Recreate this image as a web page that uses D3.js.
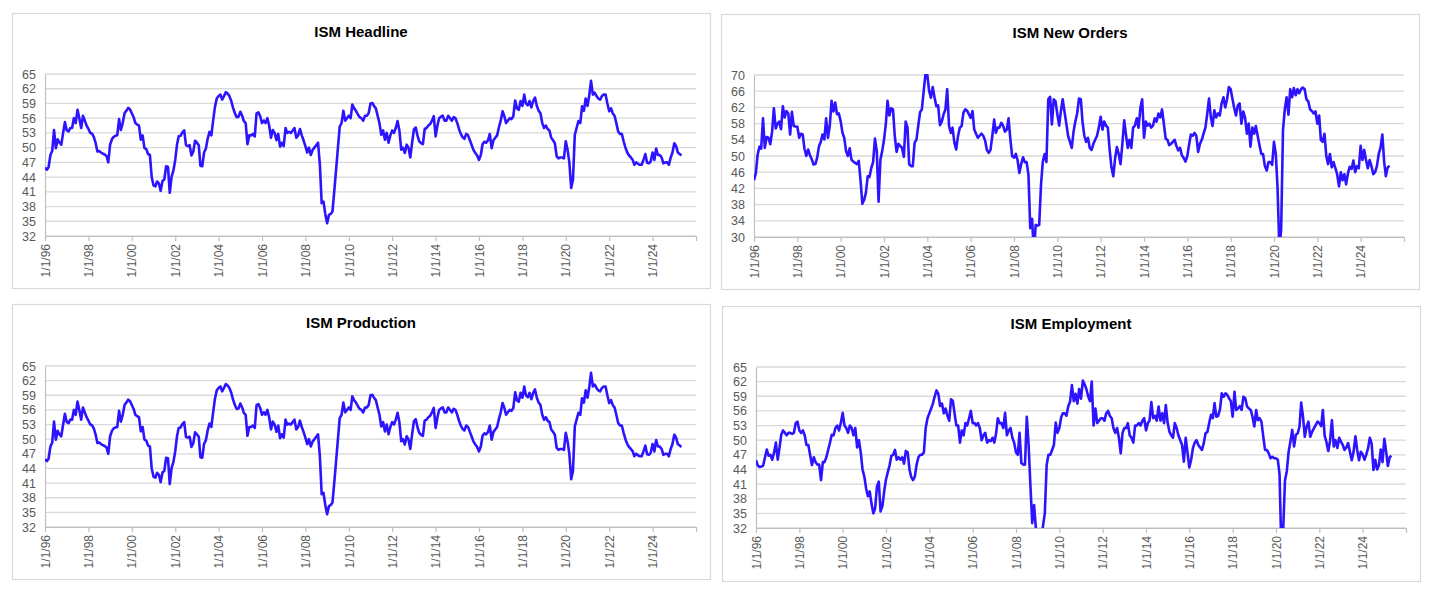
<!DOCTYPE html>
<html>
<head>
<meta charset="utf-8">
<script src="https://cdn.jsdelivr.net/npm/d3@7"></script>
<style>
  body { margin: 0; background: #fff; }
  svg { display: block; }
</style>
</head>
<body>
<div id="chart"></div>
<script>
// Monthly ISM readings, Jan 1996 .. May 2025 (one row per year)
const headline = [
  45.9, 45.5, 46.0, 48.5, 49.3, 53.6, 49.9, 51.7, 51.0, 50.6, 53.0, 55.2,
  53.5, 53.3, 54.0, 54.0, 56.0, 55.0, 57.7, 56.0, 54.0, 56.5, 55.5, 54.5,
  53.8, 53.0, 52.9, 52.2, 51.0, 49.2, 49.3, 49.0, 48.8, 48.6, 48.3, 47.0,
  50.6, 51.7, 52.2, 52.4, 52.5, 55.8, 53.6, 55.0, 57.0, 57.5, 58.1, 57.8,
  57.0, 56.2, 55.0, 54.7, 54.5, 51.6, 52.5, 49.9, 49.7, 48.7, 48.5, 44.0,
  42.3, 42.1, 43.1, 42.7, 41.2, 43.2, 43.5, 46.2, 46.1, 40.8, 44.1, 45.3,
  47.5, 50.7, 52.3, 52.4, 53.1, 53.5, 50.5, 50.3, 50.5, 48.4, 49.2, 51.4,
  51.0, 50.5, 46.3, 46.2, 49.0, 49.8, 51.8, 53.2, 52.5, 55.5, 58.3, 60.0,
  60.5, 60.8, 59.8, 60.5, 61.3, 61.0, 60.5, 59.5, 58.1, 57.0, 56.2, 56.3,
  57.3, 56.5, 55.4, 55.0, 50.7, 52.5, 52.5, 52.8, 52.3, 57.0, 57.2, 56.4,
  55.0, 55.5, 55.0, 56.0, 54.5, 52.0, 53.6, 53.0, 51.5, 52.8, 50.2, 51.0,
  50.3, 54.0, 53.0, 53.2, 53.0, 53.5, 54.0, 52.0, 52.5, 53.8, 52.5, 51.5,
  50.3, 49.0, 50.0, 48.5, 49.5, 50.0, 50.5, 51.0, 46.5, 38.7, 39.0, 36.5,
  34.6, 36.3, 36.5, 37.0, 41.1, 45.5, 49.9, 54.3, 55.0, 57.5, 55.5, 56.0,
  56.5, 56.0, 58.8, 58.0, 57.5, 56.8, 56.2, 56.0, 55.5, 56.5, 56.5, 57.0,
  59.0, 59.1, 58.5, 58.0, 56.5, 55.0, 52.6, 53.5, 51.6, 53.0, 51.0, 52.5,
  53.5, 53.0, 54.0, 55.4, 53.5, 49.6, 50.0, 48.9, 50.6, 50.0, 48.0, 51.0,
  53.7, 54.1, 52.5, 51.3, 50.9, 50.7, 53.8, 54.0, 54.5, 54.8, 55.5, 56.4,
  52.3, 54.5, 56.0, 56.3, 56.5, 55.5, 55.5, 56.5, 56.0, 55.5, 56.2, 56.0,
  55.0, 53.7, 52.8, 52.1, 51.8, 52.8, 52.5, 51.5, 50.5, 49.5, 48.9, 48.4,
  47.5, 48.5, 50.7, 51.2, 51.0, 51.5, 52.8, 49.9, 51.5, 52.0, 52.5, 54.1,
  55.5, 57.4, 56.5, 55.0, 55.5, 56.0, 55.8, 56.4, 59.6, 58.0, 57.7, 59.5,
  58.5, 60.8, 59.0, 58.6, 59.5, 58.2, 59.5, 60.2, 58.5, 57.5, 57.0, 55.0,
  54.0, 54.5, 53.8, 53.5, 52.0, 51.5, 50.9, 48.2, 47.8, 48.0, 48.0, 47.8,
  51.3, 49.5, 47.0, 41.8, 43.5, 52.6, 54.0, 55.4, 55.0, 58.4, 57.5, 60.0,
  58.5, 60.8, 63.6, 60.8, 61.2, 60.5, 60.0, 59.8, 60.5, 60.8, 60.8, 59.0,
  57.4, 58.0, 57.0, 56.5, 55.0, 53.3, 52.8, 52.8, 51.3, 50.0, 49.0, 48.4,
  48.0, 47.5, 46.5, 47.0, 46.7, 46.5, 46.5, 47.5, 48.7, 46.9, 46.8, 47.2,
  49.0, 47.5, 49.8, 48.5, 48.5, 48.0, 46.8, 47.0, 47.0, 46.5, 48.0, 49.0,
  50.9, 50.3, 49.0, 48.7, 48.4
];

const newOrders = [
  44.0, 45.8, 50.2, 52.3, 51.8, 59.3, 52.0, 54.7, 54.5, 52.9, 56.0, 61.8,
  56.8, 58.0, 58.5, 56.6, 62.3, 59.5, 61.1, 60.5, 55.3, 60.9, 57.4, 57.3,
  57.2, 54.5, 55.5, 55.3, 51.8, 50.0, 51.6, 50.2, 49.2, 47.9, 48.0, 49.6,
  52.4, 53.5, 55.3, 54.1, 59.3, 54.5, 57.4, 63.6, 61.0, 63.2, 60.3, 60.5,
  58.6, 55.7, 54.5, 51.2, 50.0, 51.9, 49.1, 48.6, 48.3, 48.0, 48.8, 44.0,
  38.2, 39.2, 40.9, 45.0, 44.8, 47.1, 48.5, 54.3, 51.2, 38.7, 49.1, 51.2,
  54.0, 58.0, 63.6, 60.0, 61.8, 61.5, 55.0, 51.0, 53.0, 52.5, 52.0, 49.8,
  58.5, 57.0, 48.0, 47.5, 47.5, 53.3, 54.0, 57.5, 60.8, 61.5, 66.0, 70.3,
  70.0, 66.0, 64.4, 67.0, 64.5, 62.3, 62.5, 57.6, 58.5, 60.3, 61.5, 66.5,
  57.4, 55.7, 57.0, 53.3, 51.6, 54.9, 57.0, 57.4, 60.7, 61.5, 61.2, 60.3,
  59.4, 61.1, 56.6, 55.5, 54.5, 55.0, 55.5, 55.0, 53.8, 51.5, 50.8, 51.5,
  55.0, 59.0, 55.7, 57.0, 57.0, 58.2, 57.5, 56.0, 56.5, 59.3, 54.1, 50.0,
  49.6, 50.5, 49.0, 45.8, 48.0, 49.7, 48.5, 48.5, 45.4, 32.2, 34.5, 26.0,
  33.0, 32.8, 33.0, 43.0, 48.6, 50.5, 48.5, 64.0, 64.6, 57.8, 64.0, 63.5,
  60.3, 57.5, 61.0, 64.0, 61.0, 58.0, 55.0, 53.5, 52.0, 56.0, 58.6, 60.5,
  64.2, 64.0, 58.5, 55.0, 53.5, 54.5, 52.0, 51.5, 53.0, 54.0, 55.0, 57.0,
  59.7, 56.5, 58.5, 57.5, 57.0, 51.5, 47.2, 45.0, 49.5, 52.2, 50.5, 48.0,
  53.0, 58.8, 55.5, 52.0, 54.0, 52.0, 57.0, 57.5, 59.3, 57.0, 61.9, 64.0,
  54.5, 58.5, 57.5, 58.0, 57.0, 57.5, 59.3, 58.5, 60.5, 59.5, 61.5, 58.0,
  54.3, 54.0, 52.7, 53.0, 53.5, 54.0, 52.5, 51.4, 52.0, 50.2, 49.5, 48.6,
  50.0, 52.9, 55.3, 55.0, 55.7, 55.0, 51.0, 53.0, 54.0, 55.5, 57.0, 60.3,
  64.2, 59.5, 57.4, 61.3, 59.5, 60.5, 60.0, 63.0, 64.5, 62.0, 64.0, 67.0,
  66.5, 64.0, 61.9, 60.0, 62.5, 63.0, 58.0, 61.0, 59.5, 55.5, 58.0, 52.3,
  57.0, 55.5, 57.4, 55.0, 52.7, 50.5, 50.5, 47.5, 46.4, 48.5, 48.5, 47.8,
  53.5, 50.5, 42.2, 27.1, 31.8, 56.4, 61.5, 64.5, 60.2, 66.5, 64.5, 66.8,
  65.0, 66.5, 65.5, 66.5, 66.9, 66.5, 64.0, 63.5, 61.5, 61.1, 60.5, 61.0,
  58.0, 60.0, 54.0, 53.5, 55.5, 50.0, 48.0, 50.5, 47.2, 48.5, 47.0, 45.5,
  42.5, 46.0, 44.0, 45.5, 43.0, 45.7, 47.3, 46.8, 48.9, 46.0, 47.5, 47.0,
  52.5, 49.0, 51.5, 49.0, 47.0, 49.0, 47.5, 45.5, 46.0, 47.5, 50.5, 52.0,
  55.3, 48.5, 45.0, 47.2, 47.6
];

// the production panel in the source shows the same trace as the headline panel
const production = [
  45.9, 45.5, 46.0, 48.5, 49.3, 53.6, 49.9, 51.7, 51.0, 50.6, 53.0, 55.2,
  53.5, 53.3, 54.0, 54.0, 56.0, 55.0, 57.7, 56.0, 54.0, 56.5, 55.5, 54.5,
  53.8, 53.0, 52.9, 52.2, 51.0, 49.2, 49.3, 49.0, 48.8, 48.6, 48.3, 47.0,
  50.6, 51.7, 52.2, 52.4, 52.5, 55.8, 53.6, 55.0, 57.0, 57.5, 58.1, 57.8,
  57.0, 56.2, 55.0, 54.7, 54.5, 51.6, 52.5, 49.9, 49.7, 48.7, 48.5, 44.0,
  42.3, 42.1, 43.1, 42.7, 41.2, 43.2, 43.5, 46.2, 46.1, 40.8, 44.1, 45.3,
  47.5, 50.7, 52.3, 52.4, 53.1, 53.5, 50.5, 50.3, 50.5, 48.4, 49.2, 51.4,
  51.0, 50.5, 46.3, 46.2, 49.0, 49.8, 51.8, 53.2, 52.5, 55.5, 58.3, 60.0,
  60.5, 60.8, 59.8, 60.5, 61.3, 61.0, 60.5, 59.5, 58.1, 57.0, 56.2, 56.3,
  57.3, 56.5, 55.4, 55.0, 50.7, 52.5, 52.5, 52.8, 52.3, 57.0, 57.2, 56.4,
  55.0, 55.5, 55.0, 56.0, 54.5, 52.0, 53.6, 53.0, 51.5, 52.8, 50.2, 51.0,
  50.3, 54.0, 53.0, 53.2, 53.0, 53.5, 54.0, 52.0, 52.5, 53.8, 52.5, 51.5,
  50.3, 49.0, 50.0, 48.5, 49.5, 50.0, 50.5, 51.0, 46.5, 38.7, 39.0, 36.5,
  34.6, 36.3, 36.5, 37.0, 41.1, 45.5, 49.9, 54.3, 55.0, 57.5, 55.5, 56.0,
  56.5, 56.0, 58.8, 58.0, 57.5, 56.8, 56.2, 56.0, 55.5, 56.5, 56.5, 57.0,
  59.0, 59.1, 58.5, 58.0, 56.5, 55.0, 52.6, 53.5, 51.6, 53.0, 51.0, 52.5,
  53.5, 53.0, 54.0, 55.4, 53.5, 49.6, 50.0, 48.9, 50.6, 50.0, 48.0, 51.0,
  53.7, 54.1, 52.5, 51.3, 50.9, 50.7, 53.8, 54.0, 54.5, 54.8, 55.5, 56.4,
  52.3, 54.5, 56.0, 56.3, 56.5, 55.5, 55.5, 56.5, 56.0, 55.5, 56.2, 56.0,
  55.0, 53.7, 52.8, 52.1, 51.8, 52.8, 52.5, 51.5, 50.5, 49.5, 48.9, 48.4,
  47.5, 48.5, 50.7, 51.2, 51.0, 51.5, 52.8, 49.9, 51.5, 52.0, 52.5, 54.1,
  55.5, 57.4, 56.5, 55.0, 55.5, 56.0, 55.8, 56.4, 59.6, 58.0, 57.7, 59.5,
  58.5, 60.8, 59.0, 58.6, 59.5, 58.2, 59.5, 60.2, 58.5, 57.5, 57.0, 55.0,
  54.0, 54.5, 53.8, 53.5, 52.0, 51.5, 50.9, 48.2, 47.8, 48.0, 48.0, 47.8,
  51.3, 49.5, 47.0, 41.8, 43.5, 52.6, 54.0, 55.4, 55.0, 58.4, 57.5, 60.0,
  58.5, 60.8, 63.6, 60.8, 61.2, 60.5, 60.0, 59.8, 60.5, 60.8, 60.8, 59.0,
  57.4, 58.0, 57.0, 56.5, 55.0, 53.3, 52.8, 52.8, 51.3, 50.0, 49.0, 48.4,
  48.0, 47.5, 46.5, 47.0, 46.7, 46.5, 46.5, 47.5, 48.7, 46.9, 46.8, 47.2,
  49.0, 47.5, 49.8, 48.5, 48.5, 48.0, 46.8, 47.0, 47.0, 46.5, 48.0, 49.0,
  50.9, 50.3, 49.0, 48.7, 48.4
];

const employment = [
  45.9, 44.8, 44.5, 44.6, 44.8, 46.5, 48.1, 46.8, 47.0, 46.0, 47.5, 49.5,
  46.0, 48.5, 51.1, 52.0, 51.5, 51.0, 51.5, 51.5, 51.3, 51.5, 53.5, 53.8,
  52.0, 51.5, 52.0, 51.0, 49.0, 49.0, 47.0, 44.9, 46.5, 45.5, 45.0, 45.0,
  41.8, 45.5, 45.5, 46.5, 48.0, 49.5, 51.1, 51.0, 52.5, 53.0, 52.0, 53.5,
  55.6, 53.0, 52.5, 51.5, 53.0, 52.5, 51.0, 52.5, 48.5, 50.0, 47.5, 44.0,
  42.5, 40.0, 38.5, 39.5, 37.0, 35.0, 36.0, 40.5, 41.5, 35.4, 36.5, 39.5,
  42.0, 43.5, 44.8, 46.8, 47.0, 48.0, 46.0, 46.5, 46.0, 46.5, 45.2, 47.8,
  47.5, 44.0, 42.5, 41.8, 42.5, 45.0, 46.5, 47.0, 47.0, 47.5, 52.5, 54.5,
  55.5, 56.5, 57.5, 59.0, 60.2, 59.5, 57.0, 57.5, 55.5, 56.5, 55.0, 54.0,
  58.4, 58.0, 55.5, 53.0, 53.0, 49.5, 52.0, 51.0, 53.5, 53.0, 54.5, 56.0,
  53.5, 53.5, 53.0, 53.5, 52.5, 50.0, 51.0, 51.5, 49.5, 50.0, 49.8, 50.5,
  49.5, 51.5, 54.5, 53.5, 53.5, 52.5, 55.6, 51.0, 52.0, 52.5, 50.5, 49.5,
  47.5, 47.0, 51.5, 45.3, 45.0, 45.0, 54.8, 49.0, 40.5, 33.0, 36.7, 32.0,
  28.0, 27.0, 29.5, 32.5, 35.0, 44.9, 47.0, 47.0, 48.0, 49.0, 53.6, 51.5,
  52.5, 54.7, 55.5, 55.5, 55.0, 57.0, 57.9, 61.3, 58.0, 59.5, 57.5, 60.5,
  58.5, 62.2, 61.5, 60.5, 59.0, 58.0, 62.0, 53.0, 56.5, 53.5, 54.0, 54.5,
  54.5, 54.0, 55.5, 56.0, 55.0, 54.5, 52.5, 51.5, 52.5, 50.5, 47.3, 51.5,
  52.5, 52.5, 53.5, 51.0, 50.5, 49.5, 53.0, 53.0, 53.5, 53.0, 54.0, 54.5,
  52.0, 53.5, 54.0, 57.8, 54.5, 55.0, 54.0, 56.9, 54.0, 55.5, 53.5, 57.2,
  53.5, 51.7, 51.0, 50.5, 53.5, 52.5, 51.0, 50.0, 49.0, 45.6, 50.5, 47.5,
  44.4, 46.0, 48.3, 49.5, 50.0, 49.0, 48.5, 48.0, 49.4, 51.4, 51.7, 53.5,
  55.2, 54.5, 57.6, 54.8, 55.0, 56.3, 59.6, 58.9, 59.6, 59.3, 58.6, 58.0,
  54.8, 59.9, 56.2, 56.5, 57.0, 56.2, 58.9, 58.6, 56.9, 56.5, 56.2, 54.8,
  52.8, 56.2, 54.1, 54.5, 53.8, 50.7, 48.0, 48.0, 47.3, 46.3, 46.6, 46.3,
  46.3, 46.0, 43.0, 27.5, 31.5, 41.8, 43.6, 47.6, 49.8, 52.1, 48.7, 51.1,
  51.4, 52.8, 57.7, 54.8, 50.7, 52.8, 53.8, 50.7, 51.7, 52.4, 53.1, 53.8,
  53.5, 52.9, 56.2, 50.9, 49.6, 47.8, 49.9, 54.1, 48.7, 50.0, 48.4, 50.5,
  49.7, 49.0, 48.0, 48.5, 49.4, 47.6, 45.9, 47.6, 50.8, 48.0, 45.9, 47.6,
  47.1, 46.0, 47.0, 48.3, 50.5, 49.3, 43.9, 46.0, 44.0, 44.8, 48.1, 45.5,
  50.3, 47.6, 44.7, 46.5, 46.8
];

const titles = ["ISM Headline", "ISM New Orders", "ISM Production", "ISM Employment"];
const yTicksA = [32, 35, 38, 41, 44, 47, 50, 53, 56, 59, 62, 65];
const yTicksB = [30, 34, 38, 42, 46, 50, 54, 58, 62, 66, 70];
const tickYears = [1996, 1998, 2000, 2002, 2004, 2006, 2008, 2010, 2012, 2014, 2016, 2018, 2020, 2022, 2024, 2026];
const labelYears = [1996, 1998, 2000, 2002, 2004, 2006, 2008, 2010, 2012, 2014, 2016, 2018, 2020, 2022, 2024];

const seriesList = [headline, newOrders, production, employment];
const tickList = [yTicksA, yTicksB, yTicksA, yTicksA];

// ---- panel geometry (px) ----
const layout = [
  { box: [12, 13, 698, 275],  plot: { l: 45,  r: 696,  t: 74,  b: 236 }, tx: 361,  ty: 37 },
  { box: [721, 14, 698, 275], plot: { l: 754, r: 1404, t: 75,  b: 237 }, tx: 1070, ty: 38 },
  { box: [12, 304, 698, 275], plot: { l: 45,  r: 696,  t: 366, b: 527 }, tx: 361,  ty: 328 },
  { box: [722, 306, 698, 275],plot: { l: 756, r: 1406, t: 367, b: 528 }, tx: 1071, ty: 329 }
];

const W = 1430, H = 594;
const FONT = "'Liberation Sans', Arial, Helvetica, sans-serif";
const LINE = "#2d14ff";
const GRID = "#d9d9d9";
const AXIS = "#bfbfbf";
const fmt = d3.timeFormat("%-m/%-d/%y");

const svg = d3.select("#chart").append("svg")
  .attr("width", W).attr("height", H)
  .attr("viewBox", `0 0 ${W} ${H}`)
  .style("font-family", FONT);

layout.forEach((lay, k) => {
  const values = seriesList[k];
  const ticks = tickList[k];
  const p = lay.plot;
  const g = svg.append("g");

  // chart frame
  g.append("rect")
    .attr("x", lay.box[0] + 0.5).attr("y", lay.box[1] + 0.5)
    .attr("width", lay.box[2]).attr("height", lay.box[3])
    .attr("fill", "#fff").attr("stroke", GRID).attr("stroke-width", 1.2);

  g.append("text")
    .attr("x", lay.tx).attr("y", lay.ty)
    .attr("text-anchor", "middle")
    .attr("font-size", 15).attr("font-weight", "bold").attr("fill", "#000")
    .text(titles[k]);

  const x = d3.scaleTime()
    .domain([new Date(1996, 0, 1), new Date(2026, 0, 1)])
    .range([p.l, p.r]);
  const y = d3.scaleLinear()
    .domain([ticks[0], ticks[ticks.length - 1]])
    .range([p.b, p.t]);

  // horizontal gridlines
  g.selectAll(".grid")
    .data(ticks)
    .join("line")
    .attr("x1", p.l).attr("x2", p.r)
    .attr("y1", d => y(d)).attr("y2", d => y(d))
    .attr("stroke", GRID).attr("stroke-width", 1.3);

  // y axis labels
  const yAxis = d3.axisLeft(y).tickValues(ticks).tickSize(0).tickPadding(9);
  const ya = g.append("g").attr("transform", `translate(${p.l},0)`).call(yAxis);
  ya.select(".domain").attr("stroke", AXIS).attr("stroke-width", 1.2);
  ya.selectAll("text").attr("font-size", 12.5).attr("fill", "#595959").attr("font-family", FONT);

  // x axis: ticks every two years, rotated labels
  const xAxis = d3.axisBottom(x)
    .tickValues(tickYears.map(yr => new Date(yr, 0, 1)))
    .tickSize(5).tickSizeOuter(0)
    .tickFormat(d => labelYears.includes(d.getFullYear()) ? fmt(d) : "");
  const xa = g.append("g").attr("transform", `translate(0,${p.b})`).call(xAxis);
  xa.select(".domain").attr("stroke", AXIS).attr("stroke-width", 1.2);
  xa.selectAll(".tick line").attr("stroke", AXIS).attr("stroke-width", 1.2);
  xa.selectAll("text")
    .attr("font-size", 12).attr("fill", "#595959").attr("font-family", FONT)
    .attr("transform", "rotate(-90)")
    .attr("text-anchor", "end")
    .attr("x", -8).attr("y", 0).attr("dy", "0.35em");

  // clip the series to the plot area (deep troughs run off the bottom)
  const clipId = "clip" + k;
  svg.append("clipPath").attr("id", clipId)
    .append("rect")
    .attr("x", p.l).attr("y", p.t - 1)
    .attr("width", p.r - p.l).attr("height", p.b - p.t + 1);

  const pts = values.map((v, i) => ({ date: new Date(1996, i, 1), v }));
  const line = d3.line().x(d => x(d.date)).y(d => y(d.v));

  g.append("path")
    .datum(pts)
    .attr("clip-path", `url(#${clipId})`)
    .attr("fill", "none")
    .attr("stroke", LINE)
    .attr("stroke-width", 2.6)
    .attr("stroke-linejoin", "round")
    .attr("d", line);
});
</script>
</body>
</html>
